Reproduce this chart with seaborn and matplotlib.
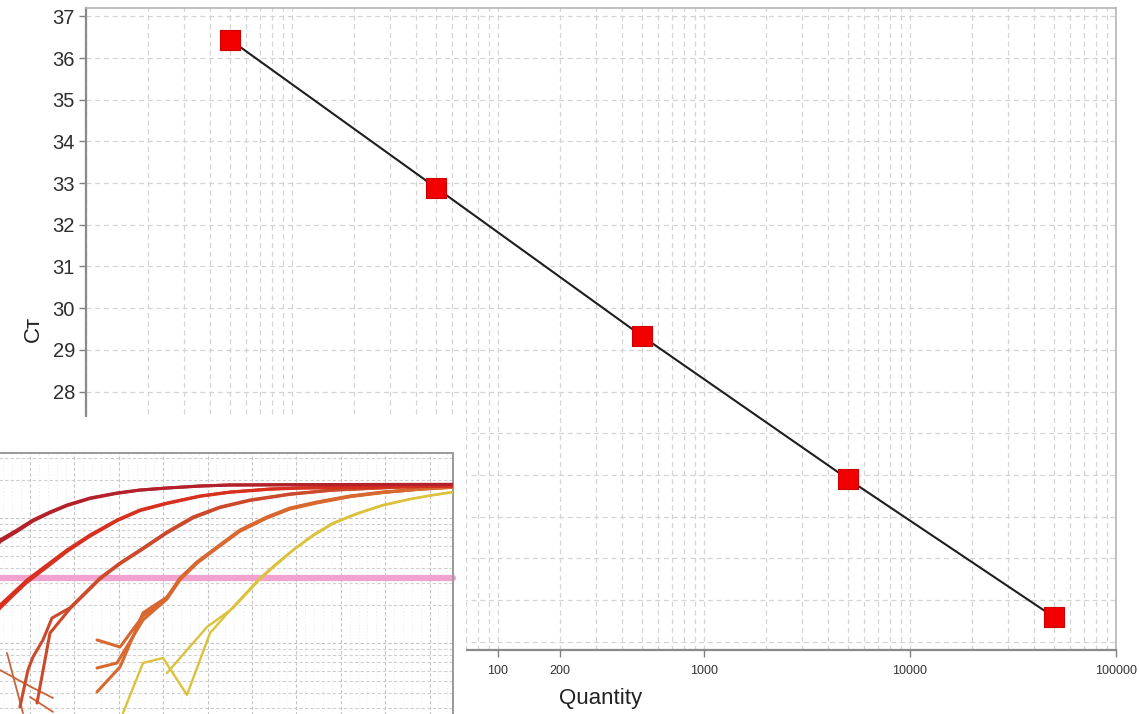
import numpy as np
import pandas as pd
import matplotlib
matplotlib.use("Agg")
import matplotlib.pyplot as plt
import seaborn as sns
from matplotlib.patches import Rectangle
from matplotlib.ticker import LogLocator, FixedLocator, FixedFormatter, MultipleLocator, NullLocator

# ---------------- standard curve data ----------------
quantity = [5, 50, 500, 5000, 50000]
ct_values = [36.44, 32.89, 29.33, 25.90, 22.59]
x_tick_values = [100, 200, 1000, 10000, 100000]
x_tick_labels = ["100", "200", "1000", "10000", "100000"]
y_tick_values = list(range(22, 38))

# ---------------- amplification curves (inset) ----------------
g1a_cycle = [5.0, 6.62, 8.54, 10.34, 12.25, 14.17, 16.76, 19.80, 22.39, 25.43, 29.14, 32.52, 40.41, 57.64]
g1a_drn = [0.45, 0.667, 0.802, 0.964, 1.117, 1.271, 1.445, 1.585, 1.675, 1.738, 1.803, 1.837, 1.84, 1.85]
g1b_cycle = [5.0, 6.62, 8.54, 10.34, 12.25, 14.17, 16.76, 19.80, 22.39, 25.43, 29.14, 32.52, 40.41, 57.64]
g1b_drn = [0.43, 0.645, 0.78, 0.945, 1.10, 1.255, 1.43, 1.575, 1.67, 1.735, 1.80, 1.835, 1.85, 1.86]

g2a_cycle = [5.0, 6.62, 8.09, 9.66, 11.91, 14.17, 16.76, 19.80, 22.39, 25.43, 29.14, 32.52, 37.03, 40.41, 57.64]
g2a_drn = [0.14, 0.201, 0.251, 0.319, 0.421, 0.555, 0.731, 0.964, 1.159, 1.318, 1.500, 1.614, 1.706, 1.738, 1.803]
g2b_cycle = [5.0, 6.62, 8.09, 9.66, 11.91, 14.17, 16.76, 19.80, 22.39, 25.43, 29.14, 32.52, 37.03, 40.41, 57.64]
g2b_drn = [0.13, 0.19, 0.24, 0.306, 0.405, 0.54, 0.715, 0.95, 1.145, 1.305, 1.49, 1.605, 1.70, 1.735, 1.80]

g3a_cycle = [8.87, 9.77, 10.34, 11.46, 12.48, 14.50, 17.88, 20.14, 22.73, 25.43, 28.36, 31.40, 34.77, 39.28, 44.12, 51.67, 57.64]
g3a_drn = [0.0308, 0.0608, 0.0773, 0.1057, 0.1585, 0.191, 0.331, 0.437, 0.575, 0.773, 1.019, 1.225, 1.393, 1.556, 1.675, 1.770, 1.803]
g3b_cycle = [10.79, 12.25, 14.50, 17.88, 20.14, 22.73, 25.43, 28.36, 31.40, 34.77, 39.28, 44.12, 51.67, 57.64]
g3b_drn = [0.0331, 0.120, 0.188, 0.325, 0.43, 0.565, 0.76, 1.00, 1.21, 1.38, 1.545, 1.67, 1.765, 1.80]

noise1_cycle = [7.41, 9.21]
noise1_drn = [0.0832, 0.0275]
noise2_cycle = [6.62, 10.0, 12.59]
noise2_drn = [0.0608, 0.045, 0.0363]
noise3_cycle = [10.0, 12.59]
noise3_drn = [0.0370, 0.0281]

g4a_cycle = [17.55, 20.14, 22.73, 25.43, 26.89, 28.81, 31.06, 33.65, 36.69, 39.28, 42.32, 46.04, 49.75, 53.92, 57.64]
g4a_drn = [0.0406, 0.0643, 0.174, 0.233, 0.331, 0.445, 0.586, 0.802, 1.019, 1.202, 1.343, 1.500, 1.614, 1.706, 1.770]
g4b_cycle = [17.55, 20.14, 22.73, 25.43, 26.89, 28.81, 31.06, 33.65, 36.69, 39.28, 42.32, 46.04, 49.75, 53.92, 57.64]
g4b_drn = [0.1057, 0.0929, 0.165, 0.228, 0.325, 0.44, 0.58, 0.79, 1.01, 1.19, 1.33, 1.49, 1.60, 1.70, 1.76]
g4c_cycle = [17.55, 19.80, 22.73, 25.43, 26.89, 28.81, 31.06, 33.65, 36.69, 39.28, 42.32, 46.04, 49.75, 53.92, 57.64]
g4c_drn = [0.0631, 0.0692, 0.153, 0.225, 0.32, 0.435, 0.575, 0.785, 1.0, 1.18, 1.32, 1.48, 1.60, 1.70, 1.76]

g5a_cycle = [20.47, 22.73, 24.98, 27.68, 30.27, 32.86, 35.90, 37.70, 39.62, 41.87, 44.12, 46.94, 49.75, 52.79, 55.38, 57.64]
g5a_drn = [0.0275, 0.0692, 0.0759, 0.0384, 0.120, 0.194, 0.331, 0.429, 0.555, 0.731, 0.912, 1.096, 1.271, 1.419, 1.528, 1.614]
g5b_cycle = [25.43, 27.68, 29.93, 32.86, 35.90, 37.70, 39.62, 41.87, 44.12, 46.94, 49.75, 52.79, 55.38, 57.64]
g5b_drn = [0.0575, 0.0879, 0.134, 0.19, 0.325, 0.42, 0.55, 0.72, 0.90, 1.085, 1.26, 1.41, 1.52, 1.61]

threshold = 0.331

wells = [
    ("g5", "g5a", g5a_cycle, g5a_drn), ("g5", "g5b", g5b_cycle, g5b_drn),
    ("g4", "g4a", g4a_cycle, g4a_drn), ("g4", "g4b", g4b_cycle, g4b_drn), ("g4", "g4c", g4c_cycle, g4c_drn),
    ("noise", "n1", noise1_cycle, noise1_drn), ("noise", "n2", noise2_cycle, noise2_drn),
    ("noise", "n3", noise3_cycle, noise3_drn),
    ("g3", "g3a", g3a_cycle, g3a_drn), ("g3", "g3b", g3b_cycle, g3b_drn),
    ("g2", "g2a", g2a_cycle, g2a_drn), ("g2", "g2b", g2b_cycle, g2b_drn),
    ("g1", "g1a", g1a_cycle, g1a_drn), ("g1", "g1b", g1b_cycle, g1b_drn),
]
rows = []
for grp, well, cyc, drn in wells:
    for c, d in zip(cyc, drn):
        rows.append({"group": grp, "well": well, "cycle": c, "drn": d})
amp = pd.DataFrame(rows)
palette = {"g5": "#dcc23c", "g4": "#d8682f", "noise": "#c9643a",
           "g3": "#cc4a2c", "g2": "#d8301f", "g1": "#b3222a"}

std = pd.DataFrame({"Quantity": quantity, "Ct": ct_values})

# ---------------- figure ----------------
sns.set_theme(style="white")
plt.rcParams["font.family"] = ["Liberation Sans", "DejaVu Sans"]

W, H = 1139, 714
fig = plt.figure(figsize=(W / 100, H / 100), dpi=100)
fig.patch.set_facecolor("white")

def fx(px):
    return px / W

def fy(py):
    return (H - py) / H

L, R, T, B = 86, 1116, 8, 650
ax = fig.add_axes([fx(L), fy(B), fx(R) - fx(L), fy(T) - fy(B)])
ax.set_xscale("log")
ax.set_xlim(1, 100000)
ax.set_ylim(21.8, 37.2)

sns.lineplot(data=std, x="Quantity", y="Ct", ax=ax, color="#1e1e1e", linewidth=1.5, zorder=3)
sns.scatterplot(data=std, x="Quantity", y="Ct", ax=ax, marker="s", s=210, color="#f20000",
                edgecolor="#cc0000", linewidth=0.8, zorder=4)

ax.xaxis.set_major_locator(FixedLocator(x_tick_values))
ax.xaxis.set_major_formatter(FixedFormatter(x_tick_labels))
ax.xaxis.set_minor_locator(NullLocator())
ax.yaxis.set_major_locator(FixedLocator(y_tick_values))

# grid lines
for v in LogLocator(base=10, subs=np.arange(1, 10)).tick_values(1, 100000):
    if 1 <= v <= 100000:
        ax.axvline(v, color="#d4d4d4", lw=0.9, ls=(0, (4, 3)), zorder=1)
for v in y_tick_values:
    ax.axhline(v, color="#d4d4d4", lw=0.9, ls=(0, (4, 3)), zorder=1)
ax.grid(False)

ax.tick_params(axis="y", which="major", direction="out", length=5, width=1, color="#808080",
               labelsize=14.5, labelcolor="#2e2e2e", pad=3, left=True)
ax.tick_params(axis="x", which="major", direction="out", length=5, width=1, color="#808080",
               labelsize=9, labelcolor="#333333", pad=6, bottom=True)
for side in ["left", "bottom"]:
    ax.spines[side].set_color("#8a8a8a")
    ax.spines[side].set_linewidth(1.6)
for side in ["top", "right"]:
    ax.spines[side].set_color("#b4b4b4")
    ax.spines[side].set_linewidth(1.2)

ax.set_xlabel("Quantity", fontsize=16, color="#222222", labelpad=8)
ax.set_ylabel("Cᴛ", fontsize=16, color="#222222", labelpad=6,
              family=["Liberation Sans", "DejaVu Sans"])

# white cover behind the inset
cover = Rectangle((0, 0), fx(466), fy(417), transform=fig.transFigure,
                  facecolor="white", edgecolor="none", zorder=1)
fig.patches.append(cover)

# ---------------- inset: amplification plot ----------------
iL, iR, iT, iB = -58.8, 453, 453, 768
ins = fig.add_axes([fx(iL), fy(iB), fx(iR) - fx(iL), fy(iT) - fy(iB)])
ins.set_zorder(2)
ins.set_facecolor("white")
ins.set_yscale("log")
ins.set_xlim(0, 57.64)
ins.set_ylim(0.01, 3.31)

ins.xaxis.set_major_locator(MultipleLocator(5))
ins.xaxis.set_minor_locator(MultipleLocator(1))
ins.yaxis.set_major_locator(LogLocator(base=10))
ins.yaxis.set_minor_locator(LogLocator(base=10, subs=np.arange(2, 10)))
ins.grid(True, which="major", color="#c4c4c4", lw=0.8, ls=(0, (3, 2)))
ins.grid(True, which="minor", axis="y", color="#cfcfcf", lw=0.8, ls=(0, (3, 2)))
ins.grid(True, which="minor", axis="x", color="#e0e0e0", lw=0.6, ls=(0, (1, 3)))
ins.set_axisbelow(True)

ins.axhline(threshold, color="#f2a2cf", lw=4.5, zorder=1.5, clip_on=False)

for grp, sub in amp.groupby("group", sort=False):
    lw = 1.3 if grp == "noise" else (1.7 if grp == "g5" else 2.2)
    sns.lineplot(data=sub, x="cycle", y="drn", units="well", estimator=None, sort=False,
                 color=palette[grp], lw=lw, ax=ins, legend=False, zorder=3)

ins.set_xlabel("")
ins.set_ylabel("")
ins.tick_params(left=False, bottom=False, labelleft=False, labelbottom=False, which="both")
for side in ["top", "right"]:
    ins.spines[side].set_color("#9a9a9a")
    ins.spines[side].set_linewidth(1.4)
for side in ["left", "bottom"]:
    ins.spines[side].set_visible(False)

fig.savefig("out.png", dpi=100, facecolor="white")
